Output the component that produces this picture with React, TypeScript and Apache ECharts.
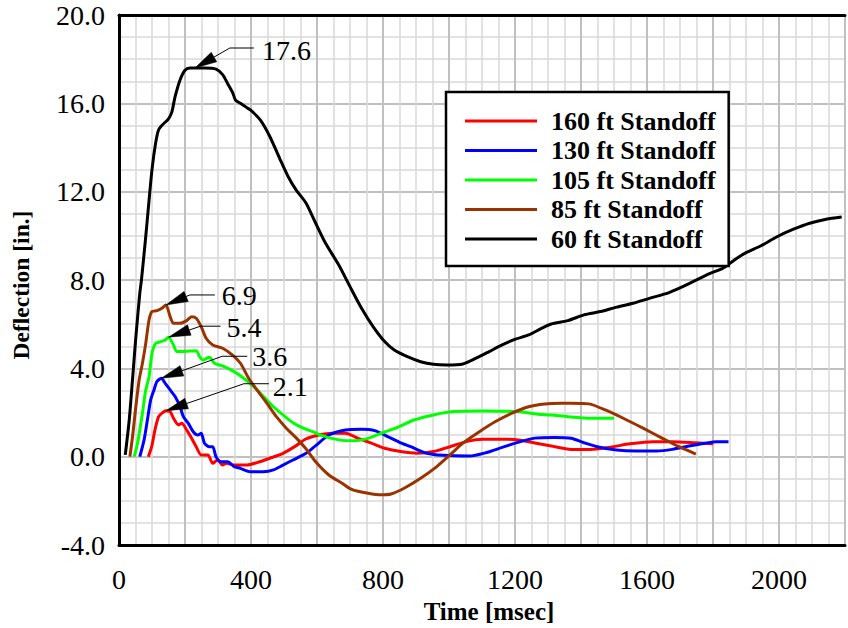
import React, { useEffect, useRef } from 'react';
import * as echarts from 'echarts';

const FONT = 'Liberation Serif';

const seriesNames = ['160 ft Standoff', '130 ft Standoff', '105 ft Standoff', '85 ft Standoff', '60 ft Standoff'];
const seriesColors = ['#ff0000', '#0000ff', '#00ff00', '#993300', '#000000'];

// 160 ft standoff
const time160 = [89, 99, 109, 120, 132, 142, 155, 165, 180, 190, 205, 220, 234, 249, 269, 284, 299, 314, 324, 349, 388, 418, 457, 497, 537, 566, 606, 646, 686, 725, 765, 805, 854, 904, 953, 1003, 1052, 1102, 1152, 1211, 1260, 1310, 1370, 1429, 1489, 1548, 1617, 1677, 1746, 1800];
const defl160 = [0.0, 0.45, 1.21, 1.81, 1.99, 2.08, 2.04, 1.74, 1.44, 1.51, 1.21, 0.83, 0.45, 0.08, 0.08, -0.3, -0.15, -0.38, -0.3, -0.38, -0.38, -0.27, -0.07, 0.15, 0.5, 0.8, 0.98, 1.06, 1.06, 0.83, 0.61, 0.38, 0.23, 0.16, 0.23, 0.45, 0.68, 0.79, 0.79, 0.76, 0.62, 0.48, 0.33, 0.33, 0.43, 0.58, 0.68, 0.68, 0.63, 0.58];

// 130 ft standoff
const time130 = [63, 76, 86, 96, 106, 115, 128, 140, 155, 170, 185, 195, 210, 225, 239, 249, 259, 274, 284, 294, 309, 329, 349, 368, 398, 438, 468, 497, 527, 567, 596, 636, 686, 735, 775, 814, 850, 884, 933, 983, 1062, 1112, 1161, 1211, 1260, 1320, 1370, 1409, 1449, 1508, 1568, 1628, 1677, 1727, 1776, 1811, 1847];
const defl130 = [0.0, 0.76, 1.66, 2.57, 3.02, 3.4, 3.55, 3.32, 3.02, 2.72, 2.26, 1.81, 1.51, 1.13, 0.98, 1.06, 0.61, 0.45, 0.45, 0.0, -0.23, -0.23, -0.45, -0.53, -0.68, -0.68, -0.6, -0.38, -0.15, 0.15, 0.5, 0.98, 1.21, 1.24, 1.18, 0.91, 0.65, 0.45, 0.15, 0.06, 0.03, 0.18, 0.42, 0.66, 0.84, 0.87, 0.83, 0.63, 0.45, 0.3, 0.26, 0.26, 0.33, 0.48, 0.61, 0.68, 0.68];

// 105 ft standoff
const time105 = [46, 56, 71, 81, 91, 100, 111, 125, 140, 150, 165, 175, 190, 234, 244, 254, 274, 289, 319, 349, 378, 408, 438, 468, 497, 527, 557, 587, 616, 666, 715, 755, 795, 844, 894, 953, 1013, 1082, 1152, 1211, 1270, 1310, 1360, 1429, 1500];
const defl105 = [0.0, 0.6, 1.97, 3.02, 3.62, 4.68, 5.13, 5.2, 5.28, 5.41, 5.06, 4.76, 4.76, 4.8, 4.53, 4.38, 4.5, 4.23, 4.08, 3.85, 3.55, 3.17, 2.72, 2.26, 1.89, 1.54, 1.3, 1.13, 0.95, 0.76, 0.72, 0.83, 1.06, 1.33, 1.66, 1.89, 2.04, 2.07, 2.06, 2.04, 1.92, 1.89, 1.81, 1.74, 1.74];

// 85 ft standoff
const time85 = [33, 41, 51, 61, 71, 81, 91, 100, 115, 130, 142, 155, 165, 185, 205, 220, 234, 249, 264, 284, 314, 344, 368, 393, 418, 448, 477, 507, 537, 567, 596, 636, 676, 705, 755, 795, 824, 864, 914, 963, 1003, 1042, 1092, 1141, 1191, 1241, 1290, 1340, 1370, 1424, 1479, 1528, 1588, 1647, 1697, 1748];
const defl85 = [0.0, 0.9, 2.26, 3.47, 4.23, 5.13, 6.19, 6.57, 6.61, 6.72, 6.87, 6.34, 6.04, 6.04, 6.16, 6.34, 6.27, 5.89, 5.36, 5.06, 4.91, 4.6, 4.23, 3.55, 3.02, 2.42, 1.81, 1.29, 0.85, 0.35, -0.23, -0.83, -1.2, -1.48, -1.66, -1.73, -1.69, -1.43, -0.98, -0.45, 0.08, 0.61, 1.13, 1.59, 1.97, 2.26, 2.39, 2.42, 2.42, 2.39, 2.08, 1.74, 1.29, 0.83, 0.45, 0.12];

// 60 ft standoff
const time60 = [19, 31, 41, 51, 63, 68, 80, 91, 100, 111, 120, 130, 150, 160, 170, 185, 200, 215, 230, 259, 294, 314, 329, 344, 353, 368, 398, 428, 457, 487, 512, 537, 567, 596, 626, 666, 700, 735, 770, 805, 834, 874, 914, 953, 993, 1042, 1082, 1122, 1161, 1201, 1241, 1280, 1310, 1360, 1409, 1459, 1508, 1558, 1607, 1667, 1726, 1786, 1830, 1865, 1900, 1944, 1994, 2044, 2093, 2143, 2190];
const defl60 = [0.08, 1.66, 3.5, 5.4, 7.4, 8.0, 9.8, 11.6, 13.0, 14.2, 14.8, 15.0, 15.3, 15.6, 16.3, 17.06, 17.5, 17.6, 17.6, 17.6, 17.55, 17.3, 16.9, 16.5, 16.15, 16.0, 15.7, 15.25, 14.5, 13.5, 12.7, 12.07, 11.48, 10.57, 9.66, 8.68, 7.7, 6.72, 5.89, 5.21, 4.83, 4.53, 4.3, 4.18, 4.15, 4.2, 4.46, 4.76, 5.06, 5.32, 5.51, 5.81, 6.01, 6.16, 6.42, 6.57, 6.77, 6.95, 7.17, 7.43, 7.82, 8.27, 8.53, 8.91, 9.24, 9.54, 9.96, 10.3, 10.57, 10.75, 10.85];

const seriesTimes = [time160, time130, time105, time85, time60];
const seriesDefl = [defl160, defl130, defl105, defl85, defl60];

// Peak callouts
const peakLabels = ['17.6', '6.9', '5.4', '3.6', '2.1'];
const peakTimes = [230, 142, 150, 128, 142];
const peakValues = [17.6, 6.87, 5.41, 3.55, 2.08];

// callout leader layout (pixels relative to the arrow tip)
const calloutLayout = [
  { elbow: [35, -20], end: 59, text: [67, -18] },
  { elbow: [24, -10], end: 49, text: [56, -9] },
  { elbow: [32, -11], end: 52, text: [58, -10] },
  { elbow: [61, -22], end: 86, text: [91, -22] },
  { elbow: [78, -27], end: 103, text: [107, -24] },
];

const X_MIN = 0;
const X_MAX = 2200;
const Y_MIN = -4;
const Y_MAX = 20;

export default function App() {
  const ref = useRef<HTMLDivElement>(null);
  useEffect(() => {
    if (!ref.current) return;
    const chart = echarts.init(ref.current, null, { renderer: 'svg' });
    const option: any = {
      animation: false,
      backgroundColor: '#ffffff',
      grid: { left: 119, top: 15, right: -11, bottom: 83, containLabel: false },
      legend: {
        orient: 'vertical',
        left: 446,
        top: 92,
        padding: [16, 13, 14, 19],
        itemGap: 3.5,
        itemWidth: 72,
        itemHeight: 3,
        icon: 'rect',
        backgroundColor: '#ffffff',
        borderColor: '#000000',
        borderWidth: 2.5,
        borderRadius: 0,
        data: seriesNames,
        textStyle: {
          fontFamily: FONT,
          fontWeight: 'bold',
          fontSize: 26,
          color: '#000000',
          padding: [0, 0, 0, 9],
        },
        z: 20,
      },
      xAxis: [
        {
          type: 'value',
          min: X_MIN,
          max: X_MAX,
          interval: 200,
          axisLine: { show: true, onZero: false, lineStyle: { color: '#000', width: 3 } },
          axisTick: { show: false },
          minorTick: { show: false, splitNumber: 4 },
          splitLine: { show: true, lineStyle: { color: '#c0c0c0', width: 2 } },
          minorSplitLine: { show: true, lineStyle: { color: '#d9d9d9', width: 1.5 } },
          axisLabel: {
            margin: 20,
            fontSize: 28,
            fontFamily: FONT,
            color: '#000',
            formatter: (v: number) => (v % 400 === 0 && v <= 2000 ? String(v) : ''),
          },
        },
        {
          type: 'value',
          position: 'top',
          min: X_MIN,
          max: X_MAX,
          interval: 200,
          axisLine: { show: true, onZero: false, lineStyle: { color: '#000', width: 3 } },
          axisTick: { show: false },
          axisLabel: { show: false },
          splitLine: { show: false },
        },
      ],
      yAxis: {
        type: 'value',
        min: Y_MIN,
        max: Y_MAX,
        interval: 4,
        axisLine: { show: true, onZero: false, lineStyle: { color: '#000', width: 3 } },
        axisTick: { show: false },
        minorTick: { show: false, splitNumber: 4 },
        splitLine: { show: true, lineStyle: { color: '#c0c0c0', width: 2 } },
        minorSplitLine: { show: true, lineStyle: { color: '#d9d9d9', width: 1.5 } },
        axisLabel: {
          margin: 14,
          fontSize: 28,
          fontFamily: FONT,
          color: '#000',
          formatter: (v: number) => v.toFixed(1),
        },
      },
      series: seriesNames.map((name, i) => ({
        name,
        type: 'line',
        xAxisIndex: 0,
        symbol: 'none',
        smooth: 0.25,
        color: seriesColors[i],
        lineStyle: { color: seriesColors[i], width: 3 },
        data: seriesTimes[i].map((t, j) => [t, seriesDefl[i][j]]),
        z: 3 + i * 0.01,
      })),
    };
    chart.setOption(option);

    const graphics: any[] = [
      {
        type: 'text',
        x: 21,
        y: 285,
        rotation: Math.PI / 2,
        style: {
          text: 'Deflection [in.]',
          fontFamily: FONT,
          fontWeight: 'bold',
          fontSize: 23.5,
          fill: '#000',
          align: 'center',
          verticalAlign: 'middle',
        },
      },
      {
        type: 'text',
        x: 489,
        y: 611,
        style: {
          text: 'Time [msec]',
          fontFamily: FONT,
          fontWeight: 'bold',
          fontSize: 25,
          fill: '#000',
          align: 'center',
          verticalAlign: 'middle',
        },
      },
    ];
    peakLabels.forEach((lab, i) => {
      const p = chart.convertToPixel({ gridIndex: 0 }, [peakTimes[i], peakValues[i]]) as number[];
      const px = p[0];
      const py = p[1];
      const L = calloutLayout[i];
      const ex = px + L.elbow[0];
      const ey = py + L.elbow[1];
      const dx = ex - px;
      const dy = ey - py;
      const len = Math.hypot(dx, dy);
      const ux = dx / len;
      const uy = dy / len;
      const hl = 22;
      const hw = 5.5;
      const bx = px + ux * hl;
      const by = py + uy * hl;
      graphics.push({
        type: 'polyline',
        z: 30,
        shape: { points: [[bx, by], [ex, ey], [px + L.end, ey]] },
        style: { stroke: '#000', lineWidth: 1, fill: null },
      });
      graphics.push({
        type: 'polygon',
        z: 30,
        shape: { points: [[px, py], [bx - uy * hw, by + ux * hw], [bx + uy * hw, by - ux * hw]] },
        style: { fill: '#000', stroke: '#000', lineWidth: 0.5 },
      });
      graphics.push({
        type: 'text',
        z: 30,
        x: px + L.text[0],
        y: py + L.text[1],
        style: {
          text: lab,
          fontFamily: FONT,
          fontSize: 28,
          fill: '#000',
          align: 'left',
          verticalAlign: 'middle',
        },
      });
    });
    chart.setOption({ graphic: graphics });

    return () => {
      chart.dispose();
    };
  }, []);

  return (
    <div
      ref={ref}
      style={{ position: 'fixed', left: 0, top: 0, width: 848, height: 628, overflow: 'hidden', background: '#fff' }}
    />
  );
}
